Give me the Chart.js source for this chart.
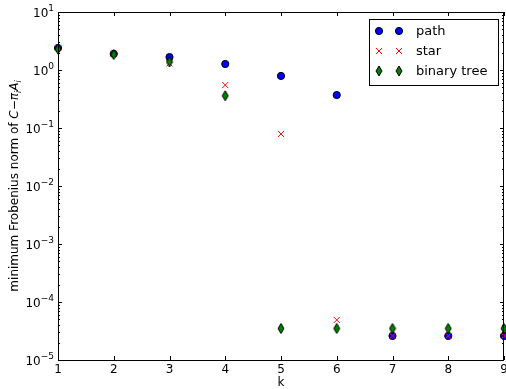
<!DOCTYPE html>
<html>
<head>
<meta charset="utf-8">
<script src="https://cdn.jsdelivr.net/npm/chart.js"></script>
<style>
  html, body { margin: 0; padding: 0; background: #fff; }
  canvas { display: block; }
</style>
</head>
<body>
<canvas id="myChart" width="506" height="389"></canvas>
<script>
// data
const ks = [1, 2, 3, 4, 5, 6, 7, 8, 9];
const pathVals = [2.4, 1.9, 1.67, 1.27, 0.79, 0.37, 2.6e-5, 2.6e-5, 2.6e-5];
const starVals = [2.4, 1.9, 1.3, 0.55, 0.079, 4.9e-5, 2.6e-5, 2.6e-5, 2.6e-5];
const treeVals = [2.3, 1.85, 1.38, 0.36, 3.5e-5, 3.5e-5, 3.5e-5, 3.5e-5, 3.5e-5];
const xTicks = [1, 2, 3, 4, 5, 6, 7, 8, 9];
const yExps = [-5, -4, -3, -2, -1, 0, 1];

const FONT = '"DejaVu Sans", sans-serif';

// thin diamond marker like matplotlib 'd'
function thinDiamond() {
    const c = document.createElement('canvas');
    c.width = 8; c.height = 12;
    const g = c.getContext('2d');
    g.beginPath();
    g.moveTo(4, 1);
    g.lineTo(7, 6);
    g.lineTo(4, 11);
    g.lineTo(1, 6);
    g.closePath();
    g.fillStyle = '#008000';
    g.fill();
    g.strokeStyle = '#000';
    g.lineWidth = 1;
    g.stroke();
    return c;
}
const diamond = thinDiamond();

function pts(vals) {
    return ks.map((k, i) => ({ x: k, y: vals[i] }));
}

// draw "10^e"
function drawPow(ctx, e, xRight, y) {
    ctx.font = '9px ' + FONT;
    const sup = String(e).replace('-', '\u2212');
    const ws = ctx.measureText(sup).width;
    ctx.textAlign = 'left';
    ctx.textBaseline = 'alphabetic';
    ctx.fillText(sup, xRight - ws, y - 1);
    ctx.font = '12px ' + FONT;
    const wb = ctx.measureText('10').width;
    ctx.fillText('10', xRight - ws - wb, y + 5);
}

function drawMarker(ctx, ds, mx, yy) {
    ctx.save();
    ctx.fillStyle = ds.backgroundColor;
    ctx.strokeStyle = ds.borderColor;
    ctx.lineWidth = ds.borderWidth;
    ctx.beginPath();
    if (ds.pointStyle === diamond) {
        ctx.drawImage(diamond, mx - diamond.width / 2, yy - diamond.height / 2);
    } else if (ds.pointStyle === 'circle') {
        ctx.arc(mx, yy, ds.pointRadius, 0, Math.PI * 2);
        ctx.fill();
        ctx.stroke();
    } else {
        const r = ds.pointRadius * Math.SQRT1_2;
        ctx.moveTo(mx - r, yy - r); ctx.lineTo(mx + r, yy + r);
        ctx.moveTo(mx - r, yy + r); ctx.lineTo(mx + r, yy - r);
        ctx.stroke();
    }
    ctx.restore();
}

const axesPlugin = {
    id: 'mplAxes',
    afterDraw(chart) {
        const ctx = chart.ctx;
        const a = chart.chartArea;
        const xs = chart.scales.x, ys = chart.scales.y;
        ctx.save();
        ctx.strokeStyle = '#000';
        ctx.fillStyle = '#000';
        ctx.lineWidth = 1;

        // ticks
        ctx.beginPath();
        xTicks.forEach(t => {
            const px = Math.round(xs.getPixelForValue(t)) + 0.5;
            ctx.moveTo(px, a.bottom); ctx.lineTo(px, a.bottom - 4);
            ctx.moveTo(px, a.top); ctx.lineTo(px, a.top + 4);
        });
        yExps.forEach((e, i) => {
            const py = Math.round(ys.getPixelForValue(Math.pow(10, e))) + 0.5;
            ctx.moveTo(a.left, py); ctx.lineTo(a.left + 4, py);
            ctx.moveTo(a.right, py); ctx.lineTo(a.right - 4, py);
            if (i < yExps.length - 1) {
                for (let m = 2; m <= 9; m++) {
                    const my = Math.round(ys.getPixelForValue(m * Math.pow(10, e))) + 0.5;
                    ctx.moveTo(a.left, my); ctx.lineTo(a.left + 2, my);
                    ctx.moveTo(a.right, my); ctx.lineTo(a.right - 2, my);
                }
            }
        });
        ctx.stroke();

        // frame
        ctx.strokeRect(Math.round(a.left) + 0.5, Math.round(a.top) + 0.5,
            Math.round(a.right - a.left) - 1, Math.round(a.bottom - a.top));

        // x tick labels
        ctx.font = '12px ' + FONT;
        ctx.textAlign = 'center';
        ctx.textBaseline = 'top';
        xTicks.forEach(t => {
            ctx.fillText(String(t), xs.getPixelForValue(t), a.bottom + 4);
        });
        ctx.fillText('k', (a.left + a.right) / 2, a.bottom + 17);

        // y tick labels
        yExps.forEach(e => {
            drawPow(ctx, e, a.left - 4, ys.getPixelForValue(Math.pow(10, e)));
        });

        // y axis label with math parts
        const parts = [
            ['minimum Frobenius norm of ', '12px ' + FONT, 0],
            ['C', 'italic 12px ' + FONT, 0],
            ['\u2212', '12px ' + FONT, 0],
            ['\u03c0', 'italic 12px ' + FONT, 0],
            ['i', 'italic 8px ' + FONT, 3],
            ['A', 'italic 12px ' + FONT, 0],
            ['i', 'italic 8px ' + FONT, 3]
        ];
        let total = 0;
        parts.forEach(p => { ctx.font = p[1]; total += ctx.measureText(p[0]).width; });
        ctx.translate(18, (a.top + a.bottom) / 2);
        ctx.rotate(-Math.PI / 2);
        ctx.textAlign = 'left';
        ctx.textBaseline = 'alphabetic';
        let cx = -total / 2;
        parts.forEach(p => {
            ctx.font = p[1];
            ctx.fillText(p[0], cx, p[2]);
            cx += ctx.measureText(p[0]).width;
        });
        ctx.restore();

        // legend
        ctx.save();
        const lx = 369, ly = 19, lw = 129, lh = 66;
        ctx.fillStyle = '#fff';
        ctx.fillRect(lx, ly, lw, lh);
        ctx.strokeStyle = '#000';
        ctx.strokeRect(lx + 0.5, ly + 0.5, lw, lh);
        const rows = [31, 51, 71];
        chart.data.datasets.forEach((ds, i) => {
            const yy = rows[i];
            [379, 399].forEach(mx => drawMarker(ctx, ds, mx, yy));
            ctx.fillStyle = '#000';
            ctx.font = '13px ' + FONT;
            ctx.textAlign = 'left';
            ctx.textBaseline = 'middle';
            ctx.fillText(ds.label, 416, yy + 1);
        });
        ctx.restore();
    }
};

new Chart(document.getElementById('myChart'), {
    type: 'scatter',
    data: {
        datasets: [
            {
                label: 'path', data: pts(pathVals), pointStyle: 'circle', pointRadius: 3.6,
                backgroundColor: '#0000ff', borderColor: '#000', borderWidth: 1, order: 3, clip: false
            },
            {
                label: 'star', data: pts(starVals), pointStyle: 'crossRot', pointRadius: 4.3,
                backgroundColor: '#ff0000', borderColor: '#ff0000', borderWidth: 1, order: 2, clip: false
            },
            {
                label: 'binary tree', data: pts(treeVals), pointStyle: diamond, pointRadius: 5,
                backgroundColor: '#008000', borderColor: '#000', borderWidth: 1, order: 1, clip: false
            }
        ]
    },
    options: {
        responsive: false,
        animation: false,
        events: [],
        layout: { autoPadding: false, padding: { left: 0, right: 2, top: 12, bottom: 0 } },
        plugins: { legend: { display: false }, tooltip: { enabled: false } },
        scales: {
            x: {
                type: 'linear', min: 1, max: 9,
                grid: { display: false }, border: { display: false },
                ticks: { display: false },
                afterFit(s) { s.height = 29; }
            },
            y: {
                type: 'logarithmic', min: 1e-5, max: 10,
                grid: { display: false }, border: { display: false },
                ticks: { display: false },
                afterFit(s) { s.width = 58; }
            }
        }
    },
    plugins: [axesPlugin]
});
</script>
</body>
</html>
